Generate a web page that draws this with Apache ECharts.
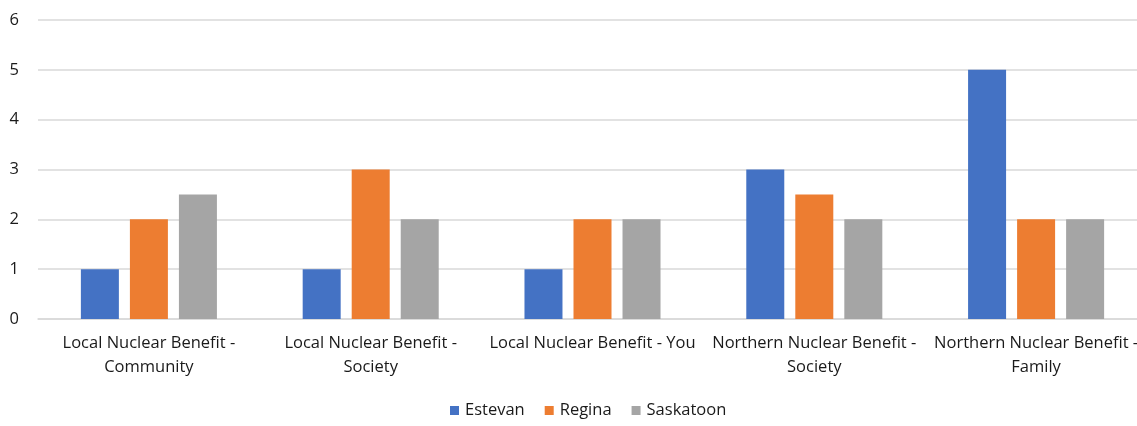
<!DOCTYPE html>
<html>
<head>
<meta charset="utf-8">
<script src="https://cdn.jsdelivr.net/npm/echarts@6/dist/echarts.min.js"></script>
<style>
  html, body { margin: 0; padding: 0; background: #fff; }
  #chart { width: 1137px; height: 426px; }
</style>
</head>
<body>
<div id="chart"></div>
<script>
// Category labels (two-line where the text wraps)
const categories = [
  'Local Nuclear Benefit -\nCommunity',
  'Local Nuclear Benefit -\nSociety',
  'Local Nuclear Benefit - You',
  'Northern Nuclear Benefit -\nSociety',
  'Northern Nuclear Benefit -\nFamily'
];
const estevan = [1, 1, 1, 3, 5];
const regina = [2, 3, 2, 2.5, 2];
const saskatoon = [2.5, 2, 2, 2, 2];
const seriesNames = ['Estevan', 'Regina', 'Saskatoon'];
const colors = ['#4472C4', '#ED7D31', '#A5A5A5'];

const font = '"Open Sans", "Liberation Sans", sans-serif';
const textColor = '#1a1a1a';
const chart = echarts.init(document.getElementById('chart'));

const makeBar = (name, data, color) => ({
  name, type: 'bar', data,
  barWidth: 38, barGap: '29%',
  itemStyle: { color },
  emphasis: { disabled: true }
});

chart.setOption({
  animation: false,
  color: colors,
  // plot area runs a little past the right edge of the canvas
  grid: { left: 38, width: 1109, top: 20, bottom: 107, containLabel: false, outerBoundsMode: 'none' },
  legend: {
    bottom: 2, left: 445,
    itemWidth: 9, itemHeight: 9, itemGap: 20,
    icon: 'rect',
    textStyle: { fontFamily: font, fontSize: 16.5, color: textColor, padding: [0, 0, 0, 1] },
    data: seriesNames
  },
  xAxis: {
    type: 'category',
    data: categories,
    axisLine: { show: true, lineStyle: { color: '#d9d9d9', width: 1.5 } },
    axisTick: { show: false },
    axisLabel: {
      interval: 0, margin: 12,
      fontFamily: font, fontSize: 16.5, color: textColor,
      lineHeight: 24
    }
  },
  yAxis: {
    type: 'value', min: 0, max: 6, interval: 1,
    axisLine: { show: false },
    axisTick: { show: false },
    splitLine: { lineStyle: { color: '#d9d9d9', width: 1.5 } },
    axisLabel: { margin: 19, fontFamily: font, fontSize: 16.5, color: textColor }
  },
  series: [
    makeBar(seriesNames[0], estevan, colors[0]),
    makeBar(seriesNames[1], regina, colors[1]),
    makeBar(seriesNames[2], saskatoon, colors[2])
  ]
});
</script>
</body>
</html>
